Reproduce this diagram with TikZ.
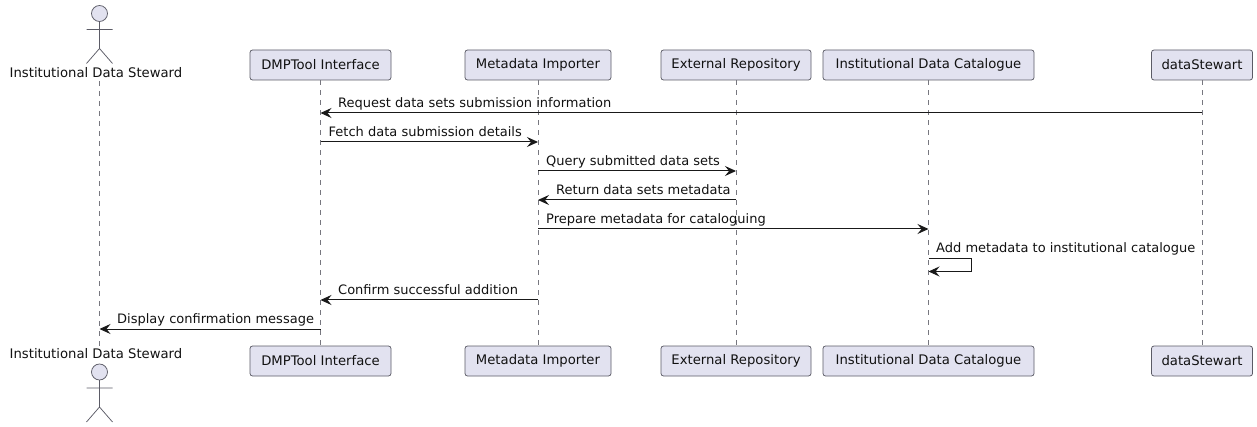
\documentclass[tikz,border=0pt]{standalone}
\usepackage{fontspec}
\setmainfont{DejaVu Sans}
\usetikzlibrary{arrows.meta}
\definecolor{pfill}{HTML}{E2E2F0}
\definecolor{pline}{HTML}{5B5B66}
\definecolor{lline}{HTML}{77777F}
\definecolor{tcol}{HTML}{111111}
\tikzset{
  x=1pt,y=-1pt,
  partbox/.style={draw=pline,fill=pfill,rounded corners=2.5pt,line width=.75pt,minimum height=30pt,inner sep=0pt,font=\fontsize{13.2}{16}\selectfont,text=tcol},
  actorlabel/.style={inner sep=0pt,font=\fontsize{13.2}{16}\selectfont,text=tcol},
  actorline/.style={draw=pline,line width=.75pt,fill=pfill},
  lifeline/.style={draw=lline,line width=.75pt,dash pattern=on 5pt off 5pt},
  msg/.style={draw=black!90,line width=1pt,-{Stealth[length=11pt,width=10pt,inset=4pt]}},
  msgtext/.style={inner sep=0pt,font=\fontsize{13}{16}\selectfont,text=tcol,anchor=base west},
}
\newcommand{\stickman}[2]{%
  \draw[actorline] (#1,#2) circle[radius=8];
  \draw[actorline,fill=none] (#1,#2+8) -- (#1,#2+35)
    (#1-13,#2+16) -- (#1+13,#2+16)
    (#1-13,#2+50) -- (#1,#2+35) -- (#1+13,#2+50);
}
\begin{document}
\begin{tikzpicture}
\useasboundingbox (0,0) rectangle (1257,427);
% lifeline anchors
\coordinate (ia) at (99.5,81);
\coordinate (ib) at (99.5,346);
\node[partbox,minimum width=141pt] (dmp) at (320.5,65) {DMPTool Interface};
\node[partbox,minimum width=146pt] (imp) at (538,65) {Metadata Importer};
\node[partbox,minimum width=150pt] (ext) at (736,65) {External Repository};
\node[partbox,minimum width=211pt] (cat) at (928.5,65) {Institutional Data Catalogue};
\node[partbox,minimum width=101pt] (ds) at (1202,65) {dataStewart};
\node[partbox,minimum width=141pt] (dmpb) at (320.5,361) {DMPTool Interface};
\node[partbox,minimum width=146pt] (impb) at (538,361) {Metadata Importer};
\node[partbox,minimum width=150pt] (extb) at (736,361) {External Repository};
\node[partbox,minimum width=211pt] (catb) at (928.5,361) {Institutional Data Catalogue};
\node[partbox,minimum width=101pt] (dsb) at (1202,361) {dataStewart};
\begin{scope}[on background layer/.try]
\draw[lifeline] (ia) -- (ib);
\foreach \p/\q in {dmp/dmpb,imp/impb,ext/extb,cat/catb,ds/dsb}{\draw[lifeline] (\p.south) -- (\q.north);}
\end{scope}
% actors
\stickman{99.5}{13.5}
\node[actorlabel] (al) at (96,73) {Institutional Data Steward};
\stickman{99.5}{372}
\node[actorlabel] (alb) at (96,354) {Institutional Data Steward};
% message rows
\coordinate (m1) at (0,113);
\coordinate (m2) at (0,142);
\coordinate (m3) at (0,171);
\coordinate (m4) at (0,200);
\coordinate (m5) at (0,229);
\coordinate (m6) at (0,258.5);
\coordinate (m6b) at (0,271.5);
\coordinate (m7) at (0,300);
\coordinate (m8) at (0,329);
\coordinate (sx) at (971.5,0);
\draw[msg] (ds |- m1) -- (dmp |- m1);
\draw[msg] (dmp |- m2) -- (imp |- m2);
\draw[msg] (imp |- m3) -- (ext |- m3);
\draw[msg] (ext |- m4) -- (imp |- m4);
\draw[msg] (imp |- m5) -- (cat |- m5);
\draw[msg] (cat |- m6) -- (sx |- m6) -- (sx |- m6b) -- (cat |- m6b);
\draw[msg] (imp |- m7) -- (dmp |- m7);
\draw[msg] (dmp |- m8) -- (ia |- m8);
\node[msgtext] (t1) at (338,107.5) {Request data sets submission information};
\node[msgtext] (t2) at (328.5,136.5) {Fetch data submission details};
\node[msgtext] (t3) at (546,165.5) {Query submitted data sets};
\node[msgtext] (t4) at (556,194.5) {Return data sets metadata};
\node[msgtext] (t5) at (546,223.5) {Prepare metadata for cataloguing};
\node[msgtext] (t6) at (936,252.5) {Add metadata to institutional catalogue};
\node[msgtext] (t7) at (338,294.5) {Confirm successful addition};
\node[msgtext] (t8) at (117,323.5) {Display confirmation message};
\end{tikzpicture}
\end{document}
